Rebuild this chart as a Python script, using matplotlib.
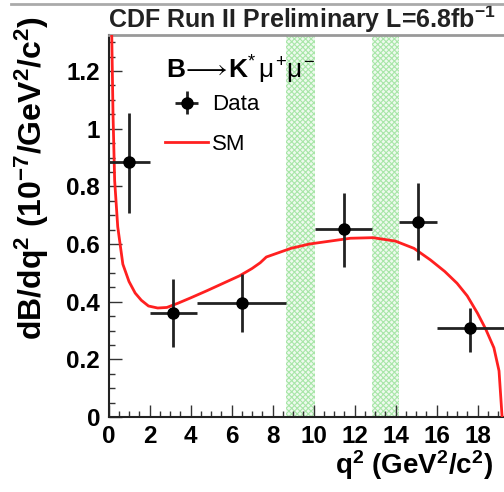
import matplotlib
matplotlib.use("Agg")
import matplotlib.pyplot as plt
from matplotlib.lines import Line2D
from matplotlib.ticker import MultipleLocator

plt.rcParams['font.family'] = ['Liberation Sans', 'DejaVu Sans']
plt.rcParams['mathtext.fontset'] = 'custom'
plt.rcParams['mathtext.rm'] = 'Liberation Sans'
plt.rcParams['mathtext.it'] = 'Liberation Sans'
plt.rcParams['mathtext.bf'] = 'Liberation Sans:bold'
plt.rcParams['hatch.linewidth'] = 0.8

# ---- data ----
bin_lo = [0.0, 2.0, 4.3, 10.09, 14.18, 16.0]
bin_hi = [2.0, 4.3, 8.68, 12.86, 16.0, 19.3]
data_y = [0.885, 0.360, 0.395, 0.652, 0.676, 0.308]
err_up = [0.170, 0.118, 0.101, 0.124, 0.135, 0.070]
err_dn = [0.178, 0.117, 0.100, 0.132, 0.132, 0.083]

sm_q2 = [0.10, 0.16, 0.22, 0.30, 0.45, 0.70, 1.0, 1.3, 1.6, 1.95, 2.4, 2.85,
         3.4, 4.0, 4.8, 5.6, 6.4, 7.0, 7.4, 7.7, 8.3, 8.9, 9.8, 10.8, 11.8,
         12.9, 14.0, 14.9, 15.7, 16.4, 17.0, 17.5, 18.0, 18.4, 18.8, 19.05, 19.2]
sm_y = [1.50, 1.32, 1.05, 0.82, 0.66, 0.53, 0.47, 0.43, 0.405, 0.385, 0.378, 0.38,
        0.395, 0.413, 0.438, 0.464, 0.49, 0.515, 0.535, 0.555, 0.57, 0.585, 0.60,
        0.61, 0.62, 0.622, 0.61, 0.585, 0.545, 0.505, 0.464, 0.42, 0.36, 0.305,
        0.24, 0.16, 0.0]

veto_lo = [8.68, 12.86]
veto_hi = [10.09, 14.18]

x_ticks = list(range(0, 20, 2))
y_ticks = [0, 0.2, 0.4, 0.6, 0.8, 1.0, 1.2]
y_tick_labels = ['0', '0.2', '0.4', '0.6', '0.8', '1', '1.2']

# ---- figure ----
W, H = 504, 492
fig = plt.figure(figsize=(W / 100, H / 100), dpi=100)
ax = fig.add_axes([108.5 / W, (H - 417) / H, 410 / W, 382 / H])
ax.set_xlim(0, 20)
ax.set_ylim(0, 1.325)

for lo, hi in zip(veto_lo, veto_hi):
    ax.axvspan(lo, hi, facecolor='#eefaee', edgecolor='#a8e6a8', hatch='xxxxxx',
               lw=0, zorder=1)

xc = [(a + b) / 2 for a, b in zip(bin_lo, bin_hi)]
xe = [(b - a) / 2 for a, b in zip(bin_lo, bin_hi)]
eb = ax.errorbar(xc, data_y, xerr=xe, yerr=[err_dn, err_up], fmt='o', color='black',
                 ecolor='#222222', elinewidth=2, markersize=8, capsize=0, zorder=4)
sm_line, = ax.plot(sm_q2, sm_y, color='#ff2020', lw=2, zorder=3, solid_joinstyle='round')

ax.set_xticks(x_ticks)
ax.set_yticks(y_ticks)
ax.set_yticklabels(y_tick_labels)
ax.xaxis.set_minor_locator(MultipleLocator(0.5))
ax.yaxis.set_minor_locator(MultipleLocator(0.05))
ax.tick_params(which='both', direction='in', top=False, right=False)
ax.tick_params(which='major', length=9, width=1, color='#333333')
ax.tick_params(which='minor', length=4.5, width=1, color='#333333')
ax.tick_params(axis='x', which='major', pad=6, labelsize=17.5)
ax.tick_params(axis='y', which='major', pad=6, labelsize=17.5)
for lab in ax.get_xticklabels() + ax.get_yticklabels():
    lab.set_fontweight('bold')

for s in ['left', 'bottom']:
    ax.spines[s].set_linewidth(1.5)
    ax.spines[s].set_color('#222222')
ax.spines['top'].set_color('#999999')
ax.spines['top'].set_linewidth(2)
ax.spines['right'].set_visible(False)

# title
ax.text(0.0, 1.0, r'CDF Run II Preliminary L=6.8fb$^{\mathbf{-1}}$', transform=ax.transAxes,
        ha='left', va='bottom', fontsize=18, fontweight='bold', color='#222222')

# header of legend
ax.text(0.14, 0.908, r'$\mathbf{B}\!\longrightarrow\!\mathbf{K}^{*}\,\mu^{+}\mu^{-}$',
        transform=ax.transAxes, ha='left', va='center', fontsize=19, color='black')

leg = ax.legend(handles=[eb, sm_line], labels=['Data', 'SM'], loc='upper left',
                bbox_to_anchor=(0.09, 0.897), frameon=False, fontsize=16,
                handlelength=1.9, labelspacing=0.85, handletextpad=0.2)

# axis titles
fig.text(32 / W, (H - 340) / H, r'dB/dq$^{\mathbf{2}}$ (10$^{\mathbf{-7}}$/GeV$^{\mathbf{2}}$/c$^{\mathbf{2}}$)',
         rotation=90, ha='center', va='bottom', fontsize=23, fontweight='bold')
fig.text(335 / W, (H - 465) / H, r'q$^{\mathbf{2}}$ (GeV$^{\mathbf{2}}$/c$^{\mathbf{2}}$)',
         ha='left', va='center', fontsize=20, fontweight='bold')

# top frame line
fig.add_artist(Line2D([11 / W, 1.0], [(H - 4) / H, (H - 4) / H], color='#aaaaaa', lw=2))

fig.savefig('out.png', dpi=100)
